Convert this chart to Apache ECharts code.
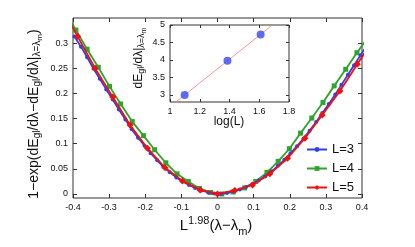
<!DOCTYPE html>
<html>
<head>
<meta charset="utf-8">
<script src="https://cdn.jsdelivr.net/npm/echarts@6/dist/echarts.min.js"></script>
<style>html,body{margin:0;padding:0;background:#fff;}#c{width:415px;height:247px;}</style>
</head>
<body>
<div id="c"></div>
<script>
// ---- data ----
var xL3 = [-0.396,-0.378,-0.361,-0.343,-0.326,-0.308,-0.290,-0.273,-0.255,-0.238,-0.220,-0.202,-0.185,-0.167,-0.150,-0.132,-0.114,-0.097,-0.079,-0.062,-0.044,-0.026,-0.009,0.009,0.026,0.044,0.062,0.079,0.097,0.114,0.132,0.150,0.167,0.185,0.202,0.220,0.238,0.255,0.273,0.290,0.308,0.326,0.343,0.361,0.378,0.396,0.414];
var yL3 = [0.313,0.293,0.272,0.249,0.229,0.208,0.188,0.168,0.148,0.129,0.112,0.096,0.081,0.067,0.054,0.043,0.033,0.025,0.018,0.012,0.007,0.003,0.001,0.000,0.002,0.005,0.009,0.014,0.020,0.027,0.035,0.045,0.056,0.068,0.081,0.095,0.110,0.126,0.143,0.161,0.179,0.198,0.217,0.237,0.256,0.276,0.296];
var xL4 = [-0.423,-0.392,-0.361,-0.330,-0.299,-0.268,-0.236,-0.205,-0.174,-0.143,-0.112,-0.081,-0.050,-0.019,0.012,0.043,0.075,0.106,0.137,0.168,0.199,0.230,0.261,0.292,0.323,0.355,0.386,0.417];
var yL4 = [0.364,0.326,0.288,0.252,0.214,0.179,0.144,0.116,0.088,0.062,0.040,0.025,0.011,0.003,0.000,0.004,0.012,0.025,0.043,0.065,0.090,0.121,0.151,0.182,0.215,0.248,0.281,0.312];
var xL5 = [-0.436,-0.387,-0.339,-0.290,-0.242,-0.194,-0.145,-0.097,-0.048,0.000,0.048,0.097,0.145,0.194,0.242,0.290,0.339,0.387,0.436];
var yL5 = [0.377,0.313,0.250,0.193,0.137,0.091,0.052,0.026,0.008,0.000,0.007,0.018,0.040,0.071,0.111,0.157,0.205,0.258,0.312];
var seriesNames = ['L=3','L=4','L=5'];
var yTicks = [0,0.05,0.1,0.15,0.2,0.25,0.3];
// inset
var logL = [1.0986,1.3863,1.6094];
var slopeVals = [3.00,3.98,4.73];
var fitX = [1.00,1.75];
var fitY = [2.666,5.208];
var insetYTicks = [3,3.5,4,4.5,5];

function pairs(xs, ys){ return xs.map(function(x,i){return [x, ys[i]];}); }

var chart = echarts.init(document.getElementById('c'), null, {renderer:'canvas'});
var FONT = 'Liberation Sans, Arial, sans-serif';
var AX = '#333';
var tickLbl = {fontFamily:FONT, fontSize:9, color:'#111'};
var noLine = {show:false, onZero:false};

var option = {
  animation:false,
  backgroundColor:'#fff',
  grid:[
    {left:73, top:18, width:289, height:180, show:true, borderColor:AX, borderWidth:1, backgroundColor:'transparent'},
    {left:170, top:25, width:119, height:77, show:true, borderColor:AX, borderWidth:1, backgroundColor:'#fff', z:5}
  ],
  xAxis:[
    {gridIndex:0, type:'value', min:-0.4, max:0.4, interval:0.1, position:'bottom',
     axisLine:noLine, splitLine:{show:false},
     axisTick:{show:true, inside:true, length:4, lineStyle:{color:AX}},
     axisLabel:{show:true, margin:5, ...tickLbl, formatter:function(v){return String(Math.round(v*10)/10);}}},
    {gridIndex:0, type:'value', min:-0.4, max:0.4, interval:0.1, position:'top',
     axisLine:noLine, splitLine:{show:false},
     axisTick:{show:true, inside:true, length:4, lineStyle:{color:AX}}, axisLabel:{show:false}},
    {gridIndex:1, type:'value', min:1, max:1.8, interval:0.2, position:'bottom', z:6,
     axisLine:noLine, splitLine:{show:false},
     axisTick:{show:true, inside:true, length:3, lineStyle:{color:AX}},
     axisLabel:{show:true, margin:5, ...tickLbl, formatter:function(v){return String(Math.round(v*10)/10);}}},
    {gridIndex:1, type:'value', min:1, max:1.8, interval:0.2, position:'top', z:6,
     axisLine:noLine, splitLine:{show:false},
     axisTick:{show:true, inside:true, length:3, lineStyle:{color:AX}}, axisLabel:{show:false}}
  ],
  yAxis:[
    {gridIndex:0, type:'value', min:-0.008, max:0.35, position:'left',
     axisLine:noLine, splitLine:{show:false},
     axisTick:{show:true, inside:true, length:4, customValues:yTicks, lineStyle:{color:AX}},
     axisLabel:{show:true, margin:5, customValues:yTicks, ...tickLbl}},
    {gridIndex:0, type:'value', min:-0.008, max:0.35, position:'right',
     axisLine:noLine, splitLine:{show:false},
     axisTick:{show:true, inside:true, length:4, customValues:yTicks, lineStyle:{color:AX}},
     axisLabel:{show:false}},
    {gridIndex:1, type:'value', min:2.8, max:5, position:'left', z:6,
     axisLine:noLine, splitLine:{show:false},
     axisTick:{show:true, inside:true, length:3, customValues:insetYTicks, lineStyle:{color:AX}},
     axisLabel:{show:true, margin:5, customValues:insetYTicks, ...tickLbl}},
    {gridIndex:1, type:'value', min:2.8, max:5, position:'right', z:6,
     axisLine:noLine, splitLine:{show:false},
     axisTick:{show:true, inside:true, length:3, customValues:insetYTicks, lineStyle:{color:AX}},
     axisLabel:{show:false}}
  ],
  legend:{
    data:seriesNames, orient:'vertical', left:306, top:143, itemWidth:20, itemHeight:6, itemGap:6,
    textStyle:{fontFamily:FONT, fontSize:13, color:'#111', lineHeight:10}, backgroundColor:'#fff', padding:[0,2,0,0]
  },
  series:[
    {name:seriesNames[0], type:'line', xAxisIndex:0, yAxisIndex:0, data:pairs(xL3,yL3),
     symbol:'circle', symbolSize:4, lineStyle:{width:1.8, color:'#2f3ff0'}, itemStyle:{color:'#2f3ff0'}, z:3},
    {name:seriesNames[1], type:'line', xAxisIndex:0, yAxisIndex:0, data:pairs(xL4,yL4),
     symbol:'rect', symbolSize:5, lineStyle:{width:1.8, color:'#2ea52a'}, itemStyle:{color:'#2ea52a'}, z:2},
    {name:seriesNames[2], type:'line', xAxisIndex:0, yAxisIndex:0, data:pairs(xL5,yL5),
     symbol:'diamond', symbolSize:7, lineStyle:{width:1.8, color:'#f01010'}, itemStyle:{color:'#f01010'}, z:4},
    {name:'fit', type:'line', xAxisIndex:2, yAxisIndex:2, data:pairs(fitX,fitY), symbol:'none',
     lineStyle:{width:0.8, color:'#ff7a7a'}, z:7},
    {name:'slope', type:'scatter', xAxisIndex:2, yAxisIndex:2, data:pairs(logL,slopeVals),
     symbol:'circle', symbolSize:8, itemStyle:{color:'#3848f0'}, z:8}
  ],
  graphic:[
    {type:'text', x:34, y:114, rotation:Math.PI/2, z:10,
     style:{text:'{n|1−exp(dE}{s|gl}{n|/dλ−dE}{s|gl}{n|/dλ|}{s|λ=λ}{ss|m}{n|)}',
       align:'center', verticalAlign:'middle', fill:'#111', fontFamily:FONT,
       rich:{n:{fontSize:14, lineHeight:20, fontFamily:FONT, fill:'#111'},
             s:{fontSize:10, lineHeight:10, verticalAlign:'bottom', padding:[0,0,2,0], fontFamily:FONT, fill:'#111'},
             ss:{fontSize:8, lineHeight:8, verticalAlign:'bottom', fontFamily:FONT, fill:'#111'}}}},
    {type:'text', x:216, y:226, z:10,
     style:{text:'{n|L}{p|1.98}{n|(λ−λ}{s|m}{n|)}', align:'center', verticalAlign:'middle', fill:'#111', fontFamily:FONT,
       rich:{n:{fontSize:15, lineHeight:22, fontFamily:FONT, fill:'#111'},
             p:{fontSize:11, lineHeight:11, verticalAlign:'top', fontFamily:FONT, fill:'#111'},
             s:{fontSize:11, lineHeight:11, verticalAlign:'bottom', fontFamily:FONT, fill:'#111'}}}},
    {type:'text', x:139, y:58, rotation:Math.PI/2, z:10,
     style:{text:'{n|dE}{s|gl}{n|/dλ|}{s|λ=λ}{ss|m}', align:'center', verticalAlign:'middle', fill:'#111', fontFamily:FONT,
       rich:{n:{fontSize:12, lineHeight:18, fontFamily:FONT, fill:'#111'},
             s:{fontSize:9, lineHeight:9, verticalAlign:'bottom', padding:[0,0,2,0], fontFamily:FONT, fill:'#111'},
             ss:{fontSize:7, lineHeight:7, verticalAlign:'bottom', fontFamily:FONT, fill:'#111'}}}},
    {type:'text', x:229, y:122, z:10,
     style:{text:'log(L)', align:'center', verticalAlign:'middle', fill:'#111', fontFamily:FONT, fontSize:12}}
  ]
};
chart.setOption(option);
</script>
</body>
</html>
